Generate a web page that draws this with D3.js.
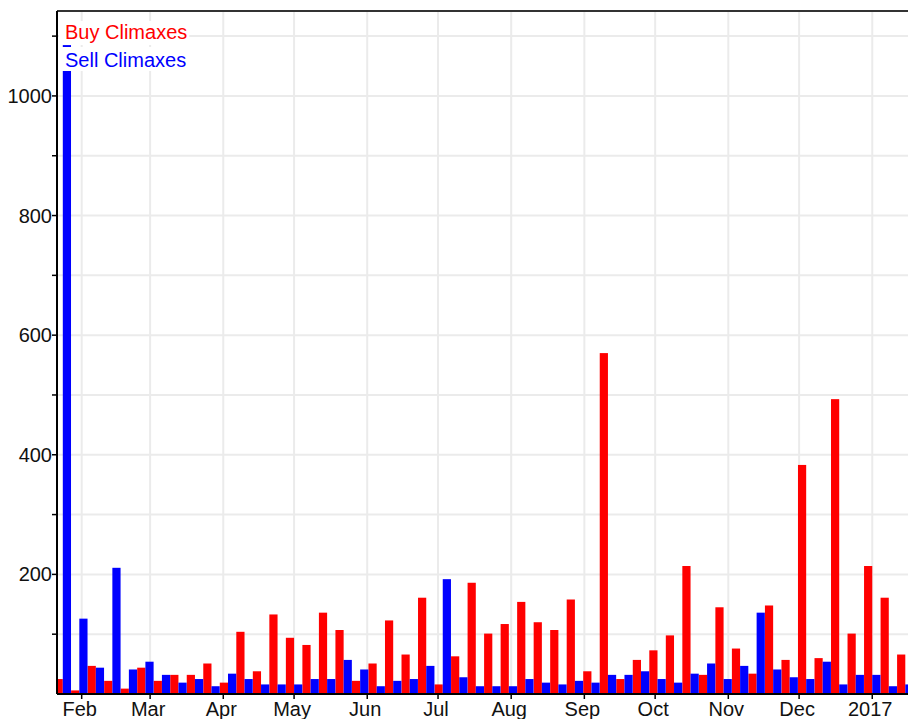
<!DOCTYPE html>
<html>
<head>
<meta charset="utf-8">
<script src="https://cdn.jsdelivr.net/npm/d3@7"></script>
<style>
  body { margin: 0; background: #fff; }
  text { font-family: "Liberation Sans", Arial, sans-serif; }
</style>
</head>
<body>
<div class="chart"></div>
<script>
// weekly climax counts, 2016-01-24 .. 2017-01-15
var weeks = [
  "2016-01-24", "2016-01-31", "2016-02-07", "2016-02-14", "2016-02-21", "2016-02-28",
  "2016-03-06", "2016-03-13", "2016-03-20", "2016-03-27", "2016-04-03", "2016-04-10",
  "2016-04-17", "2016-04-24", "2016-05-01", "2016-05-08", "2016-05-15", "2016-05-22",
  "2016-05-29", "2016-06-05", "2016-06-12", "2016-06-19", "2016-06-26", "2016-07-03",
  "2016-07-10", "2016-07-17", "2016-07-24", "2016-07-31", "2016-08-07", "2016-08-14",
  "2016-08-21", "2016-08-28", "2016-09-04", "2016-09-11", "2016-09-18", "2016-09-25",
  "2016-10-02", "2016-10-09", "2016-10-16", "2016-10-23", "2016-10-30", "2016-11-06",
  "2016-11-13", "2016-11-20", "2016-11-27", "2016-12-04", "2016-12-11", "2016-12-18",
  "2016-12-25", "2017-01-01", "2017-01-08", "2017-01-15"
];
var buyClimaxes = [
  25, 6, 47, 22, 9, 44, 22, 32, 32, 51, 19, 104, 38,
  133, 94, 82, 136, 107, 22, 51, 123, 66, 161, 16, 63, 186,
  101, 117, 154, 120, 107, 158, 38, 570, 25, 57, 73, 98, 214,
  32, 145, 76, 34, 148, 57, 383, 60, 493, 101, 214, 161, 66
];
var sellClimaxes = [
  1085, 126, 44, 211, 41, 54, 32, 19, 25, 13, 34, 25, 16,
  16, 16, 25, 25, 57, 41, 13, 22, 25, 47, 192, 28, 13,
  13, 13, 25, 19, 16, 22, 19, 32, 32, 38, 25, 19, 34,
  51, 25, 47, 136, 41, 28, 25, 54, 16, 32, 32, 13, 16
];
var monthTicks = [
  "2016-02-01", "2016-03-01", "2016-04-01", "2016-05-01", "2016-06-01", "2016-07-01",
  "2016-08-01", "2016-09-01", "2016-10-01", "2016-11-01", "2016-12-01", "2017-01-01"
];
var monthLabels = ["Feb", "Mar", "Apr", "May", "Jun", "Jul", "Aug", "Sep", "Oct", "Nov", "Dec", "2017"];
var yLabelValues = [200, 400, 600, 800, 1000];
var seriesNames = ["Buy Climaxes", "Sell Climaxes"];

var width = 908, height = 719;
var margin = {left: 57, top: 11};
var innerW = 860, innerH = 683;
var fontSize = 20;

var parse = d3.utcParse("%Y-%m-%d");
var data = weeks.map(function (w, i) {
  return {date: parse(w), buy: buyClimaxes[i], sell: sellClimaxes[i]};
});

var x = d3.scaleUtc()
  .domain([new Date(Date.UTC(2016, 0, 21, 13)), new Date(Date.UTC(2017, 0, 19, 23))])
  .range([0, innerW]);
var y = d3.scaleLinear().domain([0, 1142]).range([innerH, 0]);
var barW = (x(parse("2016-01-31")) - x(parse("2016-01-24"))) / 2 - 0.05;

var svg = d3.select(".chart").append("svg")
  .attr("width", width)
  .attr("height", height);

svg.append("defs").append("clipPath").attr("id", "plot-clip")
  .append("rect").attr("width", innerW).attr("height", innerH);

var g = svg.append("g").attr("transform", "translate(" + margin.left + "," + margin.top + ")");

// grid
var yGrid = d3.range(100, 1200, 100);
g.append("g").selectAll("line").data(yGrid).enter().append("line")
  .attr("x1", 0).attr("x2", innerW)
  .attr("y1", function (d) { return y(d); })
  .attr("y2", function (d) { return y(d); })
  .attr("stroke", "#ebebeb").attr("stroke-width", 2);
g.append("g").selectAll("line").data(monthTicks).enter().append("line")
  .attr("x1", function (d) { return x(parse(d)); })
  .attr("x2", function (d) { return x(parse(d)); })
  .attr("y1", 0).attr("y2", innerH)
  .attr("stroke", "#ebebeb").attr("stroke-width", 2);

// bars
var bars = g.append("g").attr("clip-path", "url(#plot-clip)");
bars.selectAll("rect.buy").data(data).enter().append("rect")
  .attr("class", "buy")
  .attr("x", function (d) { return x(d.date) - barW; })
  .attr("y", function (d) { return y(d.buy); })
  .attr("width", barW)
  .attr("height", function (d) { return innerH - y(d.buy); })
  .attr("fill", "#ff0000");
bars.selectAll("rect.sell").data(data).enter().append("rect")
  .attr("class", "sell")
  .attr("x", function (d) { return x(d.date); })
  .attr("y", function (d) { return y(d.sell); })
  .attr("width", barW)
  .attr("height", function (d) { return innerH - y(d.sell); })
  .attr("fill", "#0000ff");

// frame
g.append("line").attr("x1", 0).attr("x2", innerW).attr("y1", 0).attr("y2", 0)
  .attr("stroke", "#333").attr("stroke-width", 2);
g.append("line").attr("x1", 0).attr("x2", 0).attr("y1", 0).attr("y2", innerH)
  .attr("stroke", "#000").attr("stroke-width", 2);
g.append("line").attr("x1", 0).attr("x2", innerW).attr("y1", innerH).attr("y2", innerH)
  .attr("stroke", "#000").attr("stroke-width", 2);

// y ticks
g.append("g").selectAll("line").data(yGrid).enter().append("line")
  .attr("x1", -5).attr("x2", 0)
  .attr("y1", function (d) { return y(d); })
  .attr("y2", function (d) { return y(d); })
  .attr("stroke", "#000").attr("stroke-width", 1.5);
g.append("g").selectAll("text").data(yLabelValues).enter().append("text")
  .attr("x", -5)
  .attr("y", function (d) { return y(d) + 7; })
  .attr("text-anchor", "end")
  .attr("font-size", fontSize)
  .attr("fill", "#111")
  .text(function (d) { return d; });

// x ticks
g.append("g").selectAll("line").data(monthTicks).enter().append("line")
  .attr("x1", function (d) { return x(parse(d)); })
  .attr("x2", function (d) { return x(parse(d)); })
  .attr("y1", innerH).attr("y2", innerH + 5)
  .attr("stroke", "#000").attr("stroke-width", 1.5);
g.append("g").selectAll("text").data(monthTicks).enter().append("text")
  .attr("x", function (d) { return x(parse(d)) - 2; })
  .attr("y", innerH + 22)
  .attr("text-anchor", "middle")
  .attr("font-size", fontSize)
  .attr("fill", "#111")
  .text(function (d, i) { return monthLabels[i]; });

// legend (white boxes hide what lies behind the labels)
var legendColors = ["#ff0000", "#0000ff"];
var legend = g.append("g").attr("transform", "translate(8,0)");
seriesNames.forEach(function (name, i) {
  var item = legend.append("g");
  var bg = item.append("rect").attr("fill", "#fff");
  var t = item.append("text")
    .attr("x", 0)
    .attr("y", 28 + i * 27.5)
    .attr("font-size", fontSize)
    .attr("fill", legendColors[i])
    .text(name);
  var bb = t.node().getBBox();
  bg.attr("x", -6).attr("y", 10 + i * 26).attr("width", bb.width + 8).attr("height", 24);
});
</script>
</body>
</html>
